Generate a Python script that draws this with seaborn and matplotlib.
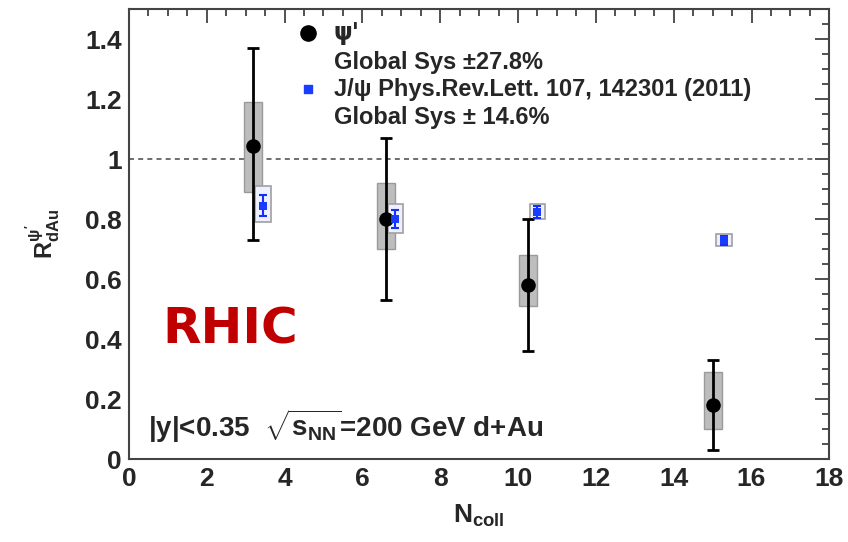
import matplotlib
matplotlib.use("Agg")
import matplotlib.pyplot as plt
from matplotlib.ticker import MultipleLocator
import seaborn as sns
import pandas as pd

# psi' measurement
psi2s_ncoll = [3.2, 6.6, 10.25, 15.0]
psi2s_r = [1.045, 0.80, 0.58, 0.18]
psi2s_stat_lo = [0.73, 0.53, 0.36, 0.03]
psi2s_stat_hi = [1.37, 1.07, 0.80, 0.33]
psi2s_sys_lo = [0.89, 0.70, 0.51, 0.10]
psi2s_sys_hi = [1.19, 0.92, 0.68, 0.29]

# J/psi measurement (PRL 107, 142301)
jpsi_ncoll = [3.45, 6.85, 10.5, 15.3]
jpsi_r = [0.845, 0.80, 0.825, 0.73]
jpsi_stat = [0.035, 0.03, 0.02, 0.015]
jpsi_sys_lo = [0.79, 0.755, 0.80, 0.71]
jpsi_sys_hi = [0.91, 0.85, 0.85, 0.75]

x_ticks = [0, 2, 4, 6, 8, 10, 12, 14, 16, 18]
y_ticks = [0, 0.2, 0.4, 0.6, 0.8, 1.0, 1.2, 1.4]
y_tick_labels = ["0", "0.2", "0.4", "0.6", "0.8", "1", "1.2", "1.4"]

sns.set_style("white")
plt.rcParams["font.family"] = ["Liberation Sans", "DejaVu Sans"]
plt.rcParams["font.weight"] = "bold"
plt.rcParams["mathtext.fontset"] = "custom"
plt.rcParams["mathtext.rm"] = "Liberation Sans:bold"
plt.rcParams["mathtext.it"] = "Liberation Sans:bold"
plt.rcParams["mathtext.bf"] = "Liberation Sans:bold"
plt.rcParams["mathtext.sf"] = "Liberation Sans:bold"

fig = plt.figure(figsize=(8.48, 5.42), dpi=100)
ax = fig.add_axes([0.152, 0.153, 0.826, 0.830])

psi = pd.DataFrame({"ncoll": psi2s_ncoll, "r": psi2s_r})
jp = pd.DataFrame({"ncoll": jpsi_ncoll, "r": jpsi_r})

# unity reference line
ax.axhline(1.0, color="#555555", lw=1.2, ls=(0, (3, 2.5)), zorder=1)

# systematic boxes
ax.bar(psi2s_ncoll, [h - l for h, l in zip(psi2s_sys_hi, psi2s_sys_lo)],
       bottom=psi2s_sys_lo, width=0.46, color="#bdbdbd", edgecolor="#9a9a9a",
       lw=1.0, zorder=2)
ax.bar(jpsi_ncoll, [h - l for h, l in zip(jpsi_sys_hi, jpsi_sys_lo)],
       bottom=jpsi_sys_lo, width=0.40, color="#eef0ff", edgecolor="#a0a0a0",
       lw=1.2, zorder=2)

# statistical error bars
ax.errorbar(psi2s_ncoll, psi2s_r,
            yerr=[[r - l for r, l in zip(psi2s_r, psi2s_stat_lo)],
                  [h - r for r, h in zip(psi2s_r, psi2s_stat_hi)]],
            fmt="none", ecolor="black", elinewidth=2.0, capsize=4.5,
            capthick=2.0, zorder=3)
ax.errorbar(jpsi_ncoll, jpsi_r, yerr=jpsi_stat, fmt="none", ecolor="#1030ff",
            elinewidth=1.5, capsize=3, capthick=1.5, zorder=4)

sns.scatterplot(data=psi, x="ncoll", y="r", ax=ax, marker="o", s=110,
                color="black", edgecolor="black", linewidth=0, zorder=5,
                legend=False)
sns.scatterplot(data=jp, x="ncoll", y="r", ax=ax, marker="s", s=38,
                color="#1a3cff", edgecolor="#1a3cff", linewidth=0, zorder=5,
                legend=False)

ax.set_xlim(0, 18)
ax.set_ylim(0, 1.5)
ax.set_xticks(x_ticks)
ax.set_xticklabels([str(t) for t in x_ticks])
ax.set_yticks(y_ticks)
ax.set_yticklabels(y_tick_labels)
ax.xaxis.set_minor_locator(MultipleLocator(0.5))
ax.yaxis.set_minor_locator(MultipleLocator(0.05))
ax.tick_params(which="both", direction="in", top=True, right=True,
               color="#333333", labelsize=19, width=1.2)
ax.tick_params(which="major", length=10)
ax.tick_params(which="minor", length=5)
ax.tick_params(axis="x", pad=6)
ax.tick_params(axis="y", pad=5)
for lab in ax.get_xticklabels() + ax.get_yticklabels():
    lab.set_fontweight("bold")
for sp in ax.spines.values():
    sp.set_color("#444444")
    sp.set_linewidth(1.5)

ax.set_xlabel(r"N$_{\mathregular{coll}}$", fontsize=19, fontweight="bold",
              labelpad=8)
ax.set_ylabel(r"R$^{\psi'}_{\mathregular{dAu}}$", fontsize=17,
              fontweight="bold", labelpad=16)

# legend block
lx_marker, lx_text = 4.6, 5.27
ax.scatter([lx_marker], [1.42], marker="o", s=120, color="black",
           clip_on=False, zorder=6)
ax.text(lx_text, 1.42, "\u03c8'", fontsize=17, fontweight="bold",
        va="center", ha="left", family=["DejaVu Sans"])
ax.text(lx_text, 1.323, "Global Sys \u00b127.8%", fontsize=17,
        fontweight="bold", va="center", ha="left")
ax.scatter([lx_marker], [1.233], marker="s", s=38, color="#1a3cff",
           clip_on=False, zorder=6)
ax.text(lx_text, 1.233, "J/\u03c8 Phys.Rev.Lett. 107, 142301 (2011)",
        fontsize=17, fontweight="bold", va="center", ha="left",
        family=["Liberation Sans", "DejaVu Sans"])
ax.text(lx_text, 1.14, "Global Sys \u00b1 14.6%", fontsize=17,
        fontweight="bold", va="center", ha="left")

ax.text(0.5, 0.11, r"|y|<0.35  $\sqrt{s_{\mathregular{NN}}}$=200 GeV d+Au",
        fontsize=20, fontweight="bold", va="center", ha="left")

ax.text(0.85, 0.433, "RHIC", fontsize=36, fontweight="bold", color="#c00000",
        va="center", ha="left", family=["DejaVu Sans"])

fig.savefig("out.png", dpi=100)
